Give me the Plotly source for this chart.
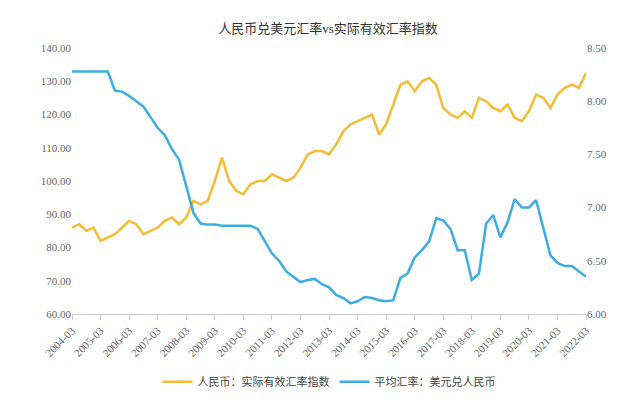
import plotly.graph_objects as go
import pandas as pd

dates = pd.date_range("2004-03-01", "2022-03-01", freq="3MS")
reer = [86,87,85,86, 82,83,84,86, 88,87,84,85, 86,88,89,87, 89,94,93,94,
        100,107,100,97, 96,99,100,100, 102,101,100,101, 104,108,109,109,
        108,111,115,117, 118,119,120,114, 117,123,129,130, 127,130,131,129,
        122,120,119,121, 119,125,124,122, 121,123,119,118, 121,126,125,122,
        126,128,129,128, 132.5]
usdcny = [8.28,8.28,8.28,8.28, 8.28,8.28,8.10,8.09, 8.05,8.00,7.95,7.85,
          7.75,7.68,7.55,7.45, 7.20,6.95,6.85,6.84, 6.84,6.83,6.83,6.83,
          6.83,6.83,6.80,6.68, 6.57,6.50,6.40,6.35, 6.30,6.32,6.33,6.28,
          6.25,6.18,6.15,6.10, 6.12,6.16,6.15,6.13, 6.12,6.13,6.34,6.38,
          6.53,6.60,6.68,6.90, 6.88,6.80,6.60,6.60, 6.32,6.38,6.85,6.93,
          6.72,6.86,7.08,7.00, 7.00,7.07,6.80,6.55, 6.48,6.45,6.45,6.40, 6.35]
name1 = "人民币：实际有效汇率指数"
name2 = "平均汇率：美元兑人民币"

fig = go.Figure()
fig.add_trace(go.Scatter(x=dates, y=reer, name=name1, mode="lines",
                         line=dict(color="#F2BC35", width=2.5)))
fig.add_trace(go.Scatter(x=dates, y=usdcny, name=name2, mode="lines", yaxis="y2",
                         line=dict(color="#3DADE0", width=2.5)))
fig.update_layout(
    width=640, height=400, plot_bgcolor="white", paper_bgcolor="white",
    margin=dict(l=64, r=62, t=40, b=74),
    font=dict(family="Liberation Serif, Noto Sans CJK SC", color="#666", size=11),
    title=dict(text="人民币兑美元汇率vs实际有效汇率指数", x=0.5, y=0.96,
               font=dict(size=13, color="#333")),
    xaxis=dict(range=[dates[0], dates[-1]], tickformat="%Y-%m", dtick="M12",
               tick0="2004-03-01", tickangle=-45, showgrid=False,
               showline=True, linecolor="#ccc", ticks="outside", tickcolor="#ccc"),
    yaxis=dict(range=[60, 140], dtick=10, tickformat=".2f", showgrid=False),
    yaxis2=dict(range=[6, 8.5], dtick=0.5, tickformat=".2f", overlaying="y",
                side="right", showgrid=False),
    legend=dict(orientation="h", x=0.5, xanchor="center", y=-0.2, yanchor="top",
                font=dict(size=11, color="#444")),
)
fig.write_html("out.html")
